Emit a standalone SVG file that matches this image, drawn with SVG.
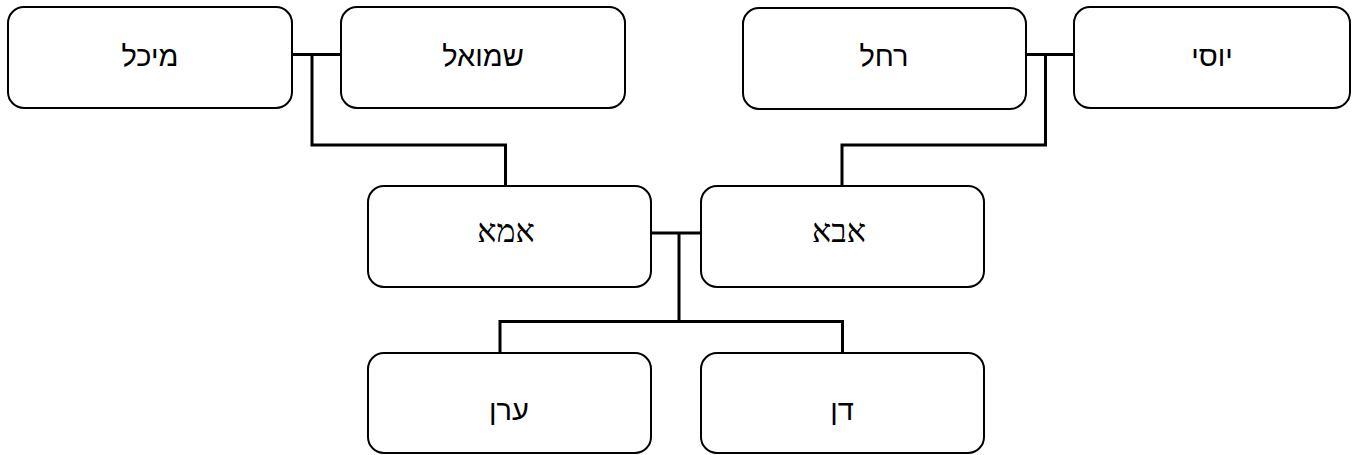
<svg xmlns="http://www.w3.org/2000/svg" width="1358" height="455" viewBox="0 0 1358 455">
<style>
.box{fill:#fff;stroke:#000;stroke-width:2}
.lbl{font-family:"DejaVu Sans","Liberation Sans",sans-serif;font-size:29px;font-weight:300;text-anchor:middle;fill:#000}
.lbs{font-family:"Liberation Serif","DejaVu Serif",serif;font-size:32px;text-anchor:middle;fill:#000}
.con{fill:none;stroke:#000;stroke-width:3}
</style>
<rect width="1358" height="455" fill="#fff"/>
<g id="connectors">
<path class="con" d="M292 54.5H341M312 54.5V145H505.5V186"/>
<path class="con" d="M1026 54.5H1074M1045.5 54.5V145H842V186"/>
<path class="con" d="M651 233H701M679 233V321.5H500V353M679 321.5H842.5V353"/>
</g>
<g id="n-michal"><rect class="box" x="8" y="7" width="284" height="101" rx="16"/><text class="lbl" x="150" y="66">מיכל</text></g>
<g id="n-shmuel"><rect class="box" x="341" y="7" width="284" height="101" rx="16"/><text class="lbl" x="483" y="66">שמואל</text></g>
<g id="n-rachel"><rect class="box" x="743" y="8" width="283" height="101" rx="16"/><text class="lbl" x="884" y="66">רחל</text></g>
<g id="n-yossi"><rect class="box" x="1074" y="7" width="276" height="101" rx="16"/><text class="lbl" x="1212" y="66">יוסי</text></g>
<g id="n-ima"><rect class="box" x="368" y="186" width="283" height="101" rx="16"/><text class="lbs" x="506" y="242">אמא</text></g>
<g id="n-aba"><rect class="box" x="701" y="186" width="283" height="101" rx="16"/><text class="lbs" x="839" y="242">אבא</text></g>
<g id="n-eran"><rect class="box" x="368" y="353" width="283" height="100" rx="16"/><text class="lbl" x="509" y="420">ערן</text></g>
<g id="n-dan"><rect class="box" x="701" y="353" width="283" height="100" rx="16"/><text class="lbl" x="842" y="420">דן</text></g>
</svg>
